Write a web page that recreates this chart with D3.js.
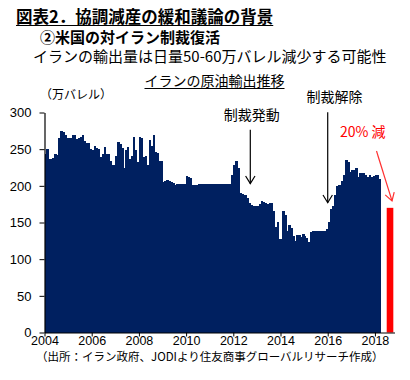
<!DOCTYPE html>
<html>
<head>
<meta charset="utf-8">
<script src="https://cdn.jsdelivr.net/npm/d3@7"></script>
<style>
  body { margin: 0; background: #fff; }
</style>
</head>
<body>
<script>
// Monthly crude exports, Jan 2004 - Mar 2018 (10k barrels/day)
const startYear = 2004;
const exportsMonthly = [
  244, 250, 237, 236, 238, 244, 242, 265, 275, 274, 270, 265, // 2004
  265, 265, 269, 269, 264, 265, 267, 269, 261, 258, 258, 250, // 2005
  249, 254, 251, 250, 239, 244, 253, 244, 244, 234, 228, 229, // 2006
  241, 260, 257, 251, 225, 249, 253, 237, 241, 266, 249, 232, // 2007
  266, 265, 239, 241, 228, 263, 254, 270, 246, 245, 234, 234, // 2008
  205, 206, 208, 207, 205, 204, 201, 203, 203, 203, 203, 202, // 2009
  213, 212, 211, 201, 201, 201, 202, 202, 202, 202, 202, 202, // 2010
  202, 203, 202, 202, 202, 202, 202, 202, 202, 202, 202, 215, // 2011
  228, 234, 224, 190, 189, 187, 187, 184, 176, 174, 173, 173, // 2012
  173, 175, 179, 178, 176, 175, 176, 176, 166, 144, 151, 128, // 2013
  128, 166, 160, 139, 146, 142, 132, 125, 133, 133, 130, 134, // 2014
  132, 129, 123, 137, 138, 139, 138, 139, 139, 139, 139, 141, // 2015
  151, 169, 173, 188, 200, 201, 201, 207, 215, 235, 232, 219, // 2016
  222, 222, 224, 212, 218, 217, 218, 215, 212, 215, 212, 213, // 2017
  215, 215, 210                                               // 2018
];

// projected level after sanctions (about 20% lower)
const forecastPeriod = [2018.5, 2018.78];
const forecastValue = 170;

const xDomain = [2004, 2018.83];
const yDomain = [0, 300];
const xTicks = [2004, 2006, 2008, 2010, 2012, 2014, 2016, 2018];
const yTicks = [0, 50, 100, 150, 200, 250, 300];

const annotations = [
  { text: "制裁発動", year: 2012.72, value: 203, labelYear: 2011.6, labelValue: 290 },
  { text: "制裁解除", year: 2016.0, value: 177, labelYear: 2015.1, labelValue: 314 }
];

const jp = "'Noto Sans CJK JP', sans-serif";
const num = "'Liberation Sans', Arial, sans-serif";
const navy = "#002060";

const width = 410;
const height = 380;

const svg = d3.select("body")
  .append("svg")
  .attr("width", width)
  .attr("height", height);

const xScale = d3.scaleLinear().domain(xDomain).range([44.5, 394.5]);
const yScale = d3.scaleLinear().domain(yDomain).range([332.5, 112.5]);

// Titles
function underlinedText(x, y, txt, size, weight, anchor) {
  const t = svg.append("text")
    .attr("x", x)
    .attr("y", y)
    .attr("text-anchor", anchor || "start")
    .style("font-family", jp)
    .style("font-size", size + "px")
    .style("font-weight", weight)
    .text(txt);
  const bb = t.node().getBBox();
  svg.append("line")
    .attr("x1", bb.x).attr("x2", bb.x + bb.width)
    .attr("y1", y + 2.5).attr("y2", y + 2.5)
    .attr("stroke", "#000").attr("stroke-width", 1);
  return t;
}

underlinedText(16, 23, "図表2．協調減産の緩和議論の背景", 16.5, "bold");

svg.append("text")
  .attr("x", 40).attr("y", 43)
  .style("font-family", jp).style("font-size", "15px").style("font-weight", "bold")
  .text("②米国の対イラン制裁復活");

svg.append("text")
  .attr("x", 33).attr("y", 62)
  .style("font-family", jp).style("font-size", "15px")
  .text("イランの輸出量は日量50-60万バレル減少する可能性");

underlinedText(214.5, 86, "イランの原油輸出推移", 14, "normal", "middle");

svg.append("text")
  .attr("x", 40).attr("y", 99)
  .style("font-family", jp).style("font-size", "12px")
  .text("（万バレル）");

// Monthly bars
svg.append("g")
  .selectAll("rect")
  .data(exportsMonthly)
  .join("rect")
  .attr("x", (d, i) => xScale(startYear + i / 12))
  .attr("y", d => yScale(d))
  .attr("width", (d, i) => xScale(startYear + (i + 1) / 12) - xScale(startYear + i / 12) + 0.4)
  .attr("height", d => yScale(0) - yScale(d))
  .attr("fill", navy)
  .attr("shape-rendering", "crispEdges");

// Forecast bar
svg.append("rect")
  .attr("x", xScale(forecastPeriod[0]))
  .attr("y", yScale(forecastValue))
  .attr("width", xScale(forecastPeriod[1]) - xScale(forecastPeriod[0]))
  .attr("height", yScale(0) - yScale(forecastValue))
  .attr("fill", "#ff0000");

// Axes
const yAxis = svg.append("g")
  .attr("transform", `translate(${xScale(xDomain[0])},0)`)
  .call(d3.axisLeft(yScale).tickValues(yTicks).tickSize(5).tickSizeOuter(0));
yAxis.selectAll("text")
  .attr("x", -13)
  .style("font-family", num).style("font-size", "13px").attr("fill", "#000");

const xAxis = svg.append("g")
  .attr("transform", `translate(0,${yScale(0)})`)
  .call(d3.axisBottom(xScale).tickValues(xTicks).tickFormat(d3.format("d")).tickSize(4).tickSizeOuter(0));
xAxis.selectAll("text")
  .attr("y", 4)
  .style("font-family", num).style("font-size", "12.5px").attr("fill", "#000");

svg.selectAll(".domain").attr("stroke", "#000").attr("stroke-width", 1.2);
svg.selectAll(".tick line").attr("stroke", "#000");

// Arrow helper
function arrow(x1, y1, x2, y2, color) {
  const ang = Math.atan2(y2 - y1, x2 - x1);
  const len = 9, spread = 0.55;
  svg.append("line")
    .attr("x1", x1).attr("y1", y1).attr("x2", x2).attr("y2", y2)
    .attr("stroke", color).attr("stroke-width", 1.2);
  const pts = [
    [x2 - len * Math.cos(ang - spread), y2 - len * Math.sin(ang - spread)],
    [x2, y2],
    [x2 - len * Math.cos(ang + spread), y2 - len * Math.sin(ang + spread)]
  ];
  svg.append("path")
    .attr("d", d3.line()(pts))
    .attr("fill", "none").attr("stroke", color).attr("stroke-width", 1.2);
}

annotations.forEach(a => {
  svg.append("text")
    .attr("x", xScale(a.labelYear)).attr("y", yScale(a.labelValue))
    .style("font-family", jp).style("font-size", "14px")
    .text(a.text);
  arrow(xScale(a.year), yScale(a.labelValue) + 10, xScale(a.year), yScale(a.value), "#000");
});

// 20% reduction label
svg.append("text")
  .attr("x", 340).attr("y", 137)
  .attr("fill", "#ff0000")
  .style("font-family", jp).style("font-size", "14px")
  .text("20% 減");
arrow(376.5, 151, 392, yScale(forecastValue) - 7, "#ff3030");

// Source
svg.append("text")
  .attr("x", 36).attr("y", 361)
  .style("font-family", jp).style("font-size", "11.5px")
  .text("（出所：イラン政府、JODIより住友商事グローバルリサーチ作成）");
</script>
</body>
</html>
